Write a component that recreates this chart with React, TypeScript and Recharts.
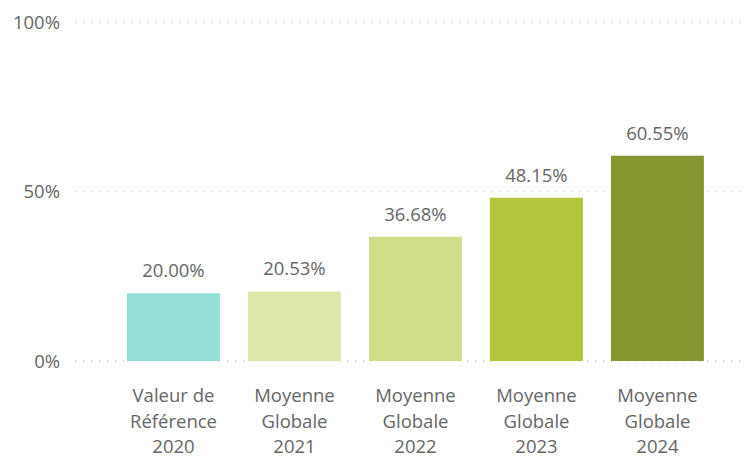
import React from 'react';
import { BarChart, Bar, XAxis, YAxis, CartesianGrid, LabelList, Cell } from 'recharts';

const categories = [
  ['Valeur de', 'Référence', '2020'],
  ['Moyenne', 'Globale', '2021'],
  ['Moyenne', 'Globale', '2022'],
  ['Moyenne', 'Globale', '2023'],
  ['Moyenne', 'Globale', '2024'],
];
const values = [20.0, 20.53, 36.68, 48.15, 60.55];
const barColors = ['#94E0D6', '#DFE6AA', '#D1DC89', '#B3C63B', '#86962F'];
const yTicks = [0, 50, 100];

const data = categories.map((lines, i) => ({ name: lines.join('\n'), value: values[i] }));

const textColor = '#666666';
const font = '"Open Sans", sans-serif';
const fontSize = 18.5;

const CategoryTick = (props: any) => {
  const { x, y, payload } = props;
  const lines = String(payload.value).split('\n');
  return (
    <text x={x} y={y} textAnchor="middle" fill={textColor} fontSize={fontSize} fontFamily={font}>
      {lines.map((line, i) => (
        <tspan key={i} x={x} dy={i === 0 ? 41 : 25.5}>
          {line}
        </tspan>
      ))}
    </text>
  );
};

const App = () => {
  return (
    <div style={{ position: 'absolute', left: 0, top: 0, background: '#fff' }}>
      <BarChart
        width={751}
        height={458}
        data={data}
        margin={{ top: 22, right: 6, bottom: 0, left: 0 }}
        barCategoryGap="11.5%"
      >
        <CartesianGrid
          vertical={false}
          stroke="#c8c8c8"
          strokeDasharray="1 7"
          strokeWidth={1.5}
        />
        <XAxis
          dataKey="name"
          height={97}
          axisLine={false}
          tickLine={false}
          tickMargin={0}
          tickSize={0}
          interval={0}
          padding={{ left: 38, right: 27 }}
          tick={<CategoryTick />}
        />
        <YAxis
          width={75}
          domain={[0, 100]}
          ticks={yTicks}
          axisLine={false}
          tickLine={false}
          tickMargin={9}
          tickFormatter={(v) => `${v}%`}
          tick={{ fill: textColor, fontSize, fontFamily: font }}
        />
        <Bar dataKey="value" isAnimationActive={false}>
          {data.map((_, i) => (
            <Cell key={i} fill={barColors[i]} />
          ))}
          <LabelList
            dataKey="value"
            position="top"
            offset={16}
            formatter={(v: any) => `${Number(v).toFixed(2)}%`}
            style={{ fill: textColor, fontSize, fontFamily: font }}
          />
        </Bar>
      </BarChart>
    </div>
  );
};

export default App;
